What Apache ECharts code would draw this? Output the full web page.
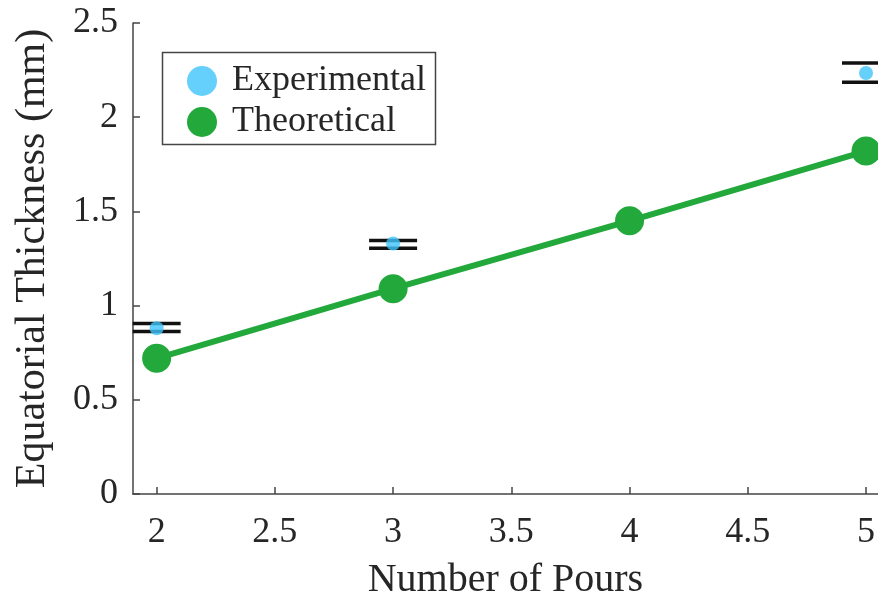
<!DOCTYPE html>
<html>
<head>
<meta charset="utf-8">
<script src="https://cdn.jsdelivr.net/npm/echarts@6/dist/echarts.min.js"></script>
<style>
  html, body { margin: 0; padding: 0; background: #ffffff; }
  #chart { width: 878px; height: 605px; }
</style>
</head>
<body>
<div id="chart"></div>
<script>
// Number of pours on the x axis
const pours = [2, 3, 4, 5];
// Theoretical equatorial thickness (mm) for each pour count
const theoretical = [0.72, 1.09, 1.45, 1.82];
// Experimental measurements (mm): pour count, mean, lower and upper bound
const expPours = [2, 3, 5];
const expMean = [0.88, 1.33, 2.235];
const expLow = [0.863, 1.305, 2.186];
const expHigh = [0.905, 1.346, 2.288];
// Tick positions shown on the x axis
const xTicks = [2, 2.5, 3, 3.5, 4, 4.5, 5];

const FONT = 'Liberation Serif';
const INK = '#262626';
const AXIS = '#454545';
const BLUE = '#3ec4fa';
const GREEN = '#22a83b';

const chart = echarts.init(document.getElementById('chart'), null, { renderer: 'canvas' });

const theoData = pours.map((p, i) => [p, theoretical[i]]);
const expData = expPours.map((p, i) => [p, expMean[i]]);
const errData = expPours.map((p, i) => [p, expLow[i], expHigh[i]]);

chart.setOption({
  backgroundColor: '#ffffff',
  animation: false,
  grid: { left: 133, top: 23, bottom: 107, right: 0, containLabel: false },
  legend: {
    data: ['Experimental', 'Theoretical'],
    orient: 'vertical',
    left: 182,
    top: 58,
    icon: 'circle',
    itemWidth: 30,
    itemHeight: 30,
    itemGap: 5,
    textStyle: { fontFamily: FONT, fontSize: 36, color: INK, padding: [0, 0, 0, 10] },
    selectedMode: false
  },
  graphic: [{
    type: 'rect',
    shape: { x: 162.5, y: 52.5, width: 273, height: 92 },
    style: { fill: '#ffffff', stroke: AXIS, lineWidth: 1.5 },
    z: 0, zlevel: 0, silent: true
  }],
  xAxis: {
    type: 'value',
    min: 1.9,
    max: 5.05,
    name: 'Number of Pours',
    nameLocation: 'middle',
    nameGap: 66,
    nameTextStyle: { fontFamily: FONT, fontSize: 40, color: INK },
    axisLine: { show: true, lineStyle: { color: AXIS, width: 1.5 } },
    axisTick: { show: true, inside: true, length: 7, customValues: xTicks, lineStyle: { color: AXIS, width: 1.5 } },
    axisLabel: { customValues: xTicks, fontFamily: FONT, fontSize: 36, color: INK, margin: 21 },
    splitLine: { show: false }
  },
  yAxis: {
    type: 'value',
    min: 0,
    max: 2.5,
    interval: 0.5,
    name: 'Equatorial Thickness (mm)',
    nameLocation: 'middle',
    nameGap: 79,
    nameTextStyle: { fontFamily: FONT, fontSize: 42, color: INK },
    axisLine: { show: true, lineStyle: { color: AXIS, width: 1.5 } },
    axisTick: { show: true, inside: true, length: 7, lineStyle: { color: AXIS, width: 1.5 } },
    axisLabel: { fontFamily: FONT, fontSize: 36, color: INK, margin: 15 },
    splitLine: { show: false }
  },
  series: [
    {
      name: 'ErrorBars',
      type: 'custom',
      z: 3,
      data: errData,
      encode: { x: 0, y: [1, 2] },
      renderItem: function (params, api) {
        const x = api.value(0);
        const lo = api.coord([x, api.value(1)]);
        const hi = api.coord([x, api.value(2)]);
        const half = 24;
        const style = { stroke: '#111111', lineWidth: 3.5, fill: null };
        return {
          type: 'group',
          children: [
            { type: 'line', shape: { x1: lo[0] - half, y1: lo[1], x2: lo[0] + half, y2: lo[1] }, style: style },
            { type: 'line', shape: { x1: hi[0] - half, y1: hi[1], x2: hi[0] + half, y2: hi[1] }, style: style }
          ]
        };
      }
    },
    {
      name: 'Experimental',
      type: 'scatter',
      z: 4,
      data: expData,
      symbol: 'circle',
      symbolSize: 14,
      itemStyle: { color: BLUE }
    },
    {
      name: 'Theoretical',
      type: 'line',
      z: 5,
      data: theoData,
      symbol: 'circle',
      symbolSize: 29,
      showSymbol: true,
      lineStyle: { color: GREEN, width: 6 },
      itemStyle: { color: GREEN, borderWidth: 0 }
    }
  ]
});
</script>
</body>
</html>
